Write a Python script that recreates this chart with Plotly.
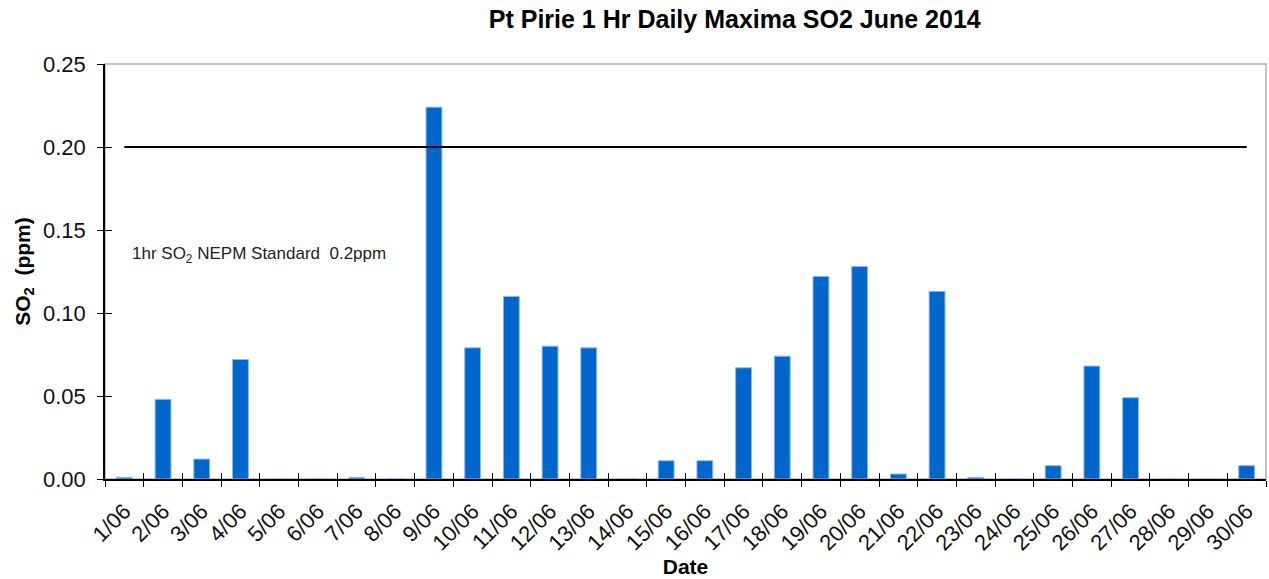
import plotly.graph_objects as go

# Daily maximum 1-hour SO2 readings, Port Pirie, June 2014
dates = [f"{d}/06" for d in range(1, 31)]
so2_ppm = [0.001, 0.048, 0.012, 0.072, 0.0, 0.0, 0.001, 0.0, 0.224, 0.079,
           0.110, 0.080, 0.079, 0.0, 0.011, 0.011, 0.067, 0.074, 0.122, 0.128,
           0.003, 0.113, 0.001, 0.0, 0.008, 0.068, 0.049, 0.0, 0.0, 0.008]
nepm_standard = 0.2
y_ticks = [0.0, 0.05, 0.10, 0.15, 0.20, 0.25]

FONT = "Liberation Sans, Arial, sans-serif"
x_range = [-0.5, len(dates) - 0.5]

fig = go.Figure()
fig.add_trace(go.Bar(
    x=dates, y=so2_ppm,
    marker=dict(color="#0066CC", line=dict(color="#8ab8e6", width=1)),
    showlegend=False,
))
fig.add_trace(go.Scatter(
    x=dates, y=[nepm_standard] * len(dates), mode="lines",
    line=dict(color="black", width=2.2), showlegend=False,
))
# invisible companion trace so the overlay axes draw their inner tick halves
fig.add_trace(go.Scatter(
    x=dates, y=so2_ppm, xaxis="x2", yaxis="y2", mode="markers",
    marker=dict(opacity=0), hoverinfo="skip", showlegend=False,
))

fig.add_annotation(
    x=0.0, y=0.135, xref="paper", yref="y", xshift=25,
    text="1hr SO<sub>2</sub> NEPM Standard  0.2ppm",
    showarrow=False, xanchor="left", yanchor="middle",
    font=dict(family=FONT, size=17, color="#222"),
)

fig.update_layout(
    width=1269, height=579,
    margin=dict(l=105, r=3, t=64, b=100),
    paper_bgcolor="white", plot_bgcolor="white",
    bargap=0.59,
    title=dict(
        text="<b>Pt Pirie 1 Hr Daily Maxima SO2 June 2014</b>",
        x=0.579, xanchor="center", y=0.967, yanchor="middle",
        font=dict(family=FONT, size=25, color="black"),
    ),
    font=dict(family=FONT, color="black"),
    shapes=[dict(type="rect", xref="paper", yref="paper", x0=0, x1=1, y0=0, y1=1,
                 line=dict(color="#b0b0b0", width=1.5), layer="below")],
    xaxis=dict(
        type="category", range=x_range, tickson="boundaries",
        ticks="outside", ticklen=6, tickcolor="black",
        showline=True, linecolor="black", linewidth=1.5,
        tickangle=-45, tickfont=dict(family=FONT, size=22, color="#111"),
        ticklabelstandoff=9,
        title=dict(text="<b>Date</b>", font=dict(family=FONT, size=21), standoff=4),
        showgrid=False,
    ),
    yaxis=dict(
        range=[0, 0.25], tickvals=y_ticks, tickformat=".2f",
        ticks="outside", ticklen=6, tickcolor="black",
        showline=True, linecolor="black", linewidth=1.5,
        tickfont=dict(family=FONT, size=22, color="#111"),
        ticklabelstandoff=7,
        title=dict(text="<b>SO<sub>2</sub>  (ppm)</b>", font=dict(family=FONT, size=21), standoff=7),
        showgrid=False, zeroline=False,
    ),
    xaxis2=dict(type="category", overlaying="x", range=x_range, tickson="boundaries",
                ticks="inside", ticklen=6, tickcolor="black", showticklabels=False,
                showgrid=False, showline=False, side="bottom", anchor="y2"),
    yaxis2=dict(overlaying="y", range=[0, 0.25], tickvals=y_ticks, ticks="inside",
                ticklen=7, tickcolor="black", showticklabels=False,
                showgrid=False, showline=False, zeroline=False, side="left", anchor="x2"),
)

fig.write_html("out.html")
